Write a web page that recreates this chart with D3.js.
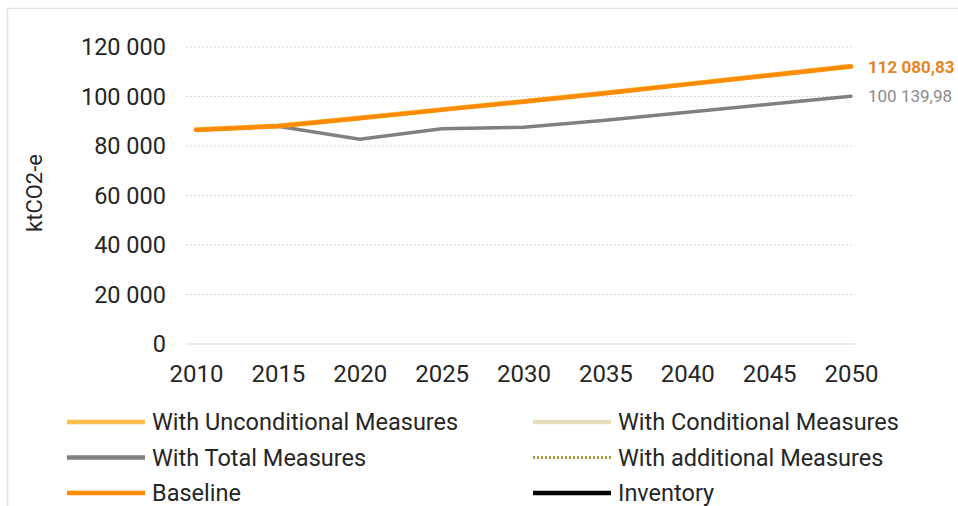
<!DOCTYPE html>
<html>
<script src='https://d3js.org/d3.v7.min.js'></script>
<style>
  body { margin: 0; background: #fff; }
  text { font-family: Roboto, sans-serif; }
</style>
<body>
<svg width=958 height=506></svg>
<script>
var years = [2010, 2015, 2020, 2025, 2030, 2035, 2040, 2045, 2050]
var yTicks = [0, 20000, 40000, 60000, 80000, 100000, 120000]
var baseline = [86500, 88000, 91200, 94600, 97900, 101300, 104900, 108500, 112080.83]
var unconditional = [86700, 88200, 91400, 94800, 98100, 101500, 105100, 108700, 112280]
var totalMeasures = [86500, 88000, 82700, 87000, 87600, 90400, 93600, 96900, 100139.98]

var legendItems = [
  {name: 'With Unconditional Measures', color: '#ffbf4d', dash: null},
  {name: 'With Conditional Measures', color: '#e6e0c1', dash: null},
  {name: 'With Total Measures', color: '#808080', dash: null},
  {name: 'With additional Measures', color: '#a89a3c', dash: '2,2'},
  {name: 'Baseline', color: '#ff8c00', dash: null},
  {name: 'Inventory', color: '#000000', dash: null}
]

var svg = d3.select('svg')
svg.append('rect').attr('x', 7.5).attr('y', 8.5).attr('width', 1000).attr('height', 600)
  .attr('fill', 'none').attr('stroke', '#e3e3e3').attr('stroke-width', 1.5)

var x = d3.scaleLinear().domain([2010, 2050]).range([196, 851])
var y = d3.scaleLinear().domain([0, 120000]).range([344, 47])
var fmt = function(v) { return d3.format(',')(v).replace(/,/g, ' ') }

// gridlines
svg.append('g').selectAll('line').data(yTicks).enter().append('line')
  .attr('x1', 186).attr('x2', 855)
  .attr('y1', function(d) { return y(d) }).attr('y2', function(d) { return y(d) })
  .attr('stroke', '#d9d9d9')
  .attr('stroke-dasharray', function(d) { return d === 0 ? null : '2,2' })
  .attr('stroke-width', 1)

// y axis labels
var yAxis = svg.append('g').attr('transform', 'translate(166,0)')
  .call(d3.axisLeft(y).tickValues(yTicks).tickSize(0).tickPadding(0).tickFormat(fmt))
yAxis.select('.domain').remove()
yAxis.selectAll('text').attr('font-size', 23.5).attr('fill', '#262626').attr('font-family', 'Roboto, sans-serif')

// x axis labels
var xAxis = svg.append('g').attr('transform', 'translate(0,365)')
  .call(d3.axisBottom(x).tickValues(years).tickSize(0).tickPadding(0).tickFormat(d3.format('d')))
xAxis.select('.domain').remove()
xAxis.selectAll('text').attr('font-size', 24).attr('fill', '#262626').attr('font-family', 'Roboto, sans-serif')

svg.append('text').attr('transform', 'translate(42,193) rotate(-90)')
  .attr('text-anchor', 'middle').attr('font-size', 22).attr('fill', '#262626')
  .text('ktCO2-e')

var line = d3.line().x(function(d, i) { return x(years[i]) }).y(function(d) { return y(d) })

svg.append('path').datum(unconditional).attr('d', line)
  .attr('fill', 'none').attr('stroke', '#ffbf4d').attr('stroke-width', 4.5).attr('stroke-linecap', 'round')
svg.append('path').datum(totalMeasures).attr('d', line)
  .attr('fill', 'none').attr('stroke', '#808080').attr('stroke-width', 3.5).attr('stroke-linecap', 'round')
svg.append('path').datum(baseline).attr('d', line)
  .attr('fill', 'none').attr('stroke', '#ff8c00').attr('stroke-width', 4.5).attr('stroke-linecap', 'round')

// end labels
svg.append('text').attr('x', 868).attr('y', y(baseline[8])).attr('dy', '0.35em')
  .attr('font-size', 17).attr('font-weight', 'bold').attr('fill', '#e6851e')
  .text('112 080,83')
svg.append('text').attr('x', 868).attr('y', y(totalMeasures[8])).attr('dy', '0.35em')
  .attr('font-size', 17).attr('fill', '#8c8c8c')
  .text('100 139,98')

// legend
var lg = svg.append('g').selectAll('g').data(legendItems).enter().append('g')
  .attr('transform', function(d, i) {
    return 'translate(' + (i % 2 === 0 ? 67 : 533) + ',' + (422 + Math.floor(i / 2) * 35.5) + ')'
  })
lg.append('line').attr('x1', 0).attr('x2', 78).attr('y1', 0).attr('y2', 0)
  .attr('stroke', function(d) { return d.color })
  .attr('stroke-width', function(d) { return d.dash ? 3 : 4.5 })
  .attr('stroke-dasharray', function(d) { return d.dash })
lg.append('text').attr('x', 85).attr('dy', '0.35em').attr('font-size', 23.5).attr('fill', '#262626')
  .text(function(d) { return d.name })
</script>
</body>
</html>
